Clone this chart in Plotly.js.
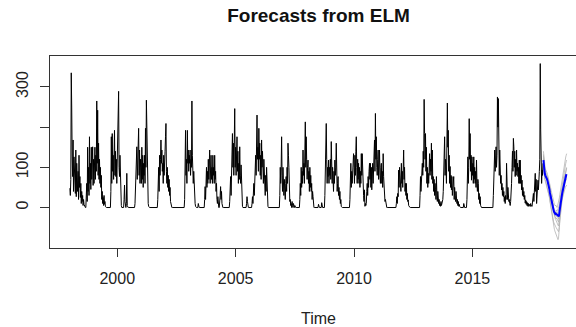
<!DOCTYPE html>
<html><head><meta charset="utf-8">
<script src="https://cdn.plot.ly/plotly-3.0.1.min.js"></script>
<style>html,body{margin:0;padding:0;overflow:hidden;background:#fff;width:576px;height:327px}#chart{width:600px;height:327px}</style>
</head><body><div id="chart"></div>
<script>
const startYear = 1998;
const freq = 52;
const y1998 = [48,30,70,335,250,126,77,168,40,126,60,100,35,143,27,110,60,40,90,20,130,50,77,25,60,10,40,15,30,5,20,8,2,0,0,0,20,60,15,150,40,100,30,176,60,110,45,150,70,100,151,55];
const y1999 = [120,60,100,150,70,130,90,265,110,242,80,160,70,120,60,100,50,80,20,40,10,25,5,30,8,15,3,0,0,0,0,0,0,0,0,0,0,0,40,176,60,184,90,130,70,150,192,80,140,77,120,60];
const y2000 = [126,90,151,289,100,77,130,60,30,5,0,0,0,0,0,20,56,15,0,0,10,85,5,0,0,0,0,0,0,0,0,0,0,0,0,0,0,0,0,10,60,30,100,151,70,120,90,197,80,143,60,120];
const y2001 = [100,60,150,70,130,50,110,80,130,60,197,100,267,176,60,35,10,3,0,0,0,0,0,0,0,0,0,0,0,0,0,0,0,0,0,0,0,20,60,100,40,130,80,120,168,110,143,90,110,60,130,80];
const y2002 = [100,140,176,209,90,60,100,50,80,40,70,30,50,15,5,0,0,0,0,0,0,0,0,0,0,0,0,0,0,0,0,0,0,0,0,0,0,0,0,0,0,0,0,0,20,100,192,80,120,60,192,110];
const y2003 = [143,90,130,110,143,80,120,100,265,130,110,60,90,40,27,10,3,0,0,0,0,0,10,0,0,0,0,0,0,0,0,0,0,0,0,0,20,52,20,70,100,50,90,60,120,70,100,143,60,90,130,70];
const y2004 = [100,60,130,80,100,60,130,70,90,40,60,20,10,27,5,0,0,10,30,52,20,40,10,0,0,0,0,0,0,0,0,0,0,0,0,0,0,0,0,15,40,77,30,100,60,184,100,160,80,130,246,100];
const y2005 = [150,80,120,176,90,140,60,110,70,151,80,60,106,30,10,3,0,0,0,0,0,0,0,0,10,27,15,0,0,0,0,0,0,0,0,0,10,27,10,40,60,30,100,60,130,80,160,230,120,150,90,197];
const y2006 = [120,160,80,130,70,168,100,140,100,60,120,70,60,30,80,40,100,30,10,3,0,0,0,0,0,0,0,0,0,0,0,0,0,0,0,0,0,0,0,0,0,0,0,0,0,30,100,60,100,176,80,40];
const y2007 = [100,60,30,70,52,20,60,77,40,100,60,160,130,100,40,15,20,5,10,0,15,5,0,10,0,0,5,0,0,0,0,0,0,0,0,0,0,20,60,30,100,50,90,60,143,80,110,60,130,213,100,176];
const y2008 = [120,70,100,118,60,90,40,100,50,80,40,60,20,40,27,5,0,0,0,0,0,0,0,0,0,0,8,0,0,0,0,0,0,12,0,0,0,0,0,0,30,77,100,209,120,60,100,77,118,60,100,80];
const y2009 = [120,70,164,90,60,100,77,40,90,60,118,80,100,160,70,40,60,77,30,50,20,40,10,20,3,0,0,0,0,0,0,0,0,0,0,0,0,0,0,0,0,0,0,20,60,110,50,90,60,110,80,134];
const y2010 = [100,60,130,80,140,176,100,60,120,70,110,60,100,50,90,60,134,80,134,60,44,30,15,44,3,10,5,10,40,60,30,77,50,90,110,70,110,50,100,44,80,110,60,100,130,168,90,234,120,176,100,80];
const y2011 = [120,143,70,100,143,80,60,100,110,60,90,50,134,77,40,27,15,20,10,3,0,0,0,0,0,0,0,0,0,0,0,0,0,0,0,0,0,0,0,0,0,10,27,10,35,27,93,50,100,60,80,40];
const y2012 = [110,60,90,50,80,143,70,100,40,60,30,60,20,35,15,19,5,3,0,0,0,0,0,0,0,0,0,0,0,0,0,0,0,0,0,0,0,0,0,0,0,30,77,40,77,60,110,80,140,100,269,184];
const y2013 = [120,184,90,150,60,100,50,85,60,100,134,80,120,90,160,70,143,60,77,40,70,30,60,44,20,77,30,15,40,27,10,20,5,10,3,15,5,10,8,20,40,70,100,176,80,120,102,60,150,260,150,192];
const y2014 = [90,130,60,102,50,80,44,77,30,60,44,77,20,50,30,15,40,27,10,20,5,15,3,8,3,0,0,0,0,0,0,0,0,10,0,0,0,0,0,0,20,70,126,60,100,221,120,184,90,130,68,126];
const y2015 = [80,110,60,126,70,100,60,90,50,118,60,40,70,60,20,35,10,27,5,0,0,0,0,0,0,0,0,0,0,0,0,0,0,0,0,0,0,0,0,0,0,0,0,0,0,0,30,77,60,143,90,120];
const y2016 = [151,100,130,275,200,271,120,80,143,100,60,80,44,60,30,50,27,40,15,27,10,30,20,110,40,20,50,35,15,20,10,5,15,30,60,100,140,90,172,151,100,140,77,120,80,143,90,110,77,100,60,118];
const y2017 = [60,118,60,80,44,68,30,50,27,40,20,30,11,19,8,15,5,12,3,10,3,8,5,3,10,3,5,3,10,20,35,15,60,35,85,40,70,10,52,30,68,44,60,90,120,358,193,68,60,93,80,110];

const fcStart = 2018;
const forecast = [118,100,88,84,80,78,76,74,70,66,62,58,52,46,38,32,26,18,12,8,2,-4,-8,-10,-12,-15,-16,-15,-17,-16,-18,-19,-20,-21,-22,-12,-2,6,12,20,27,34,40,46,52,58,66,72,77,79,81,83];
const member1 = [140,122,108,100,96,94,92,90,86,82,78,74,70,66,60,54,48,42,36,30,24,18,14,10,8,6,4,6,4,2,0,4,8,12,16,24,32,40,48,56,64,72,80,88,96,104,110,116,122,126,130,134];
const member2 = [128,110,96,92,90,88,86,84,80,76,72,66,60,54,46,40,34,26,18,12,6,0,-4,-8,-10,-12,-14,-12,-14,-12,-16,-14,-10,-8,-4,4,12,20,28,34,40,46,52,58,64,70,76,82,88,92,96,100];
const member3 = [110,92,80,74,70,66,62,58,54,50,46,40,34,28,20,12,4,-4,-12,-18,-24,-30,-34,-38,-42,-44,-46,-48,-50,-52,-54,-56,-58,-60,-56,-40,-26,-14,-4,6,14,22,30,36,42,48,54,60,64,68,70,72];
const member4 = [106,88,76,70,66,62,58,54,50,46,42,38,32,26,18,10,0,-8,-16,-24,-32,-38,-44,-50,-54,-58,-62,-66,-70,-72,-76,-78,-80,-78,-70,-50,-34,-20,-8,2,10,18,24,30,34,38,42,46,50,52,54,56];
const member5 = [122,106,92,88,84,80,78,76,72,68,64,60,56,50,42,36,28,22,14,8,2,-4,-8,-12,-14,-18,-20,-18,-22,-20,-24,-22,-26,-28,-24,-14,-4,4,10,18,26,32,38,44,50,56,62,68,74,78,80,82];
const member6 = [114,96,86,82,78,76,74,72,68,64,60,54,50,44,36,30,22,14,8,2,-4,-10,-14,-18,-20,-22,-24,-26,-28,-26,-30,-32,-34,-36,-30,-18,-8,0,8,16,22,30,36,42,48,54,60,66,70,74,76,78];
const member7 = [132,114,100,94,90,86,84,82,78,74,70,64,58,52,44,38,30,22,14,6,0,-6,-12,-16,-20,-24,-28,-30,-34,-36,-38,-40,-44,-46,-40,-26,-12,-2,8,16,24,32,40,48,56,62,70,78,84,90,94,98];
const member8 = [120,100,90,86,84,82,80,78,74,70,66,62,58,52,46,40,32,26,20,14,10,4,0,-4,-6,-8,-10,-8,-10,-6,-8,-6,-4,-2,2,10,18,26,34,42,50,58,64,72,80,86,92,100,106,110,114,118];

const xTickVals = [2000, 2005, 2010, 2015];
const yTickVals = [0, 100, 200, 300];
const yTickText = ['0', '100', '', '300'];

const history = [].concat(y1998,y1999,y2000,y2001,y2002,y2003,y2004,y2005,y2006,y2007,
  y2008,y2009,y2010,y2011,y2012,y2013,y2014,y2015,y2016,y2017);
const histX = history.map((_, i) => startYear + i / freq);
const fcX = forecast.map((_, i) => fcStart + i / freq);

const members = [member1, member2, member3, member4, member5, member6, member7, member8];
const font = 'Liberation Sans, Arial, Helvetica, sans-serif';

const traces = members.map(m => ({
  x: fcX, y: m, type: 'scatter', mode: 'lines',
  line: {color: 'rgba(175,175,175,0.75)', width: 1}, hoverinfo: 'skip'
}));
traces.push({x: histX, y: history, type: 'scatter', mode: 'lines', line: {color: '#000', width: 1}});
traces.push({x: fcX, y: forecast, type: 'scatter', mode: 'lines', line: {color: '#0000ff', width: 2}});

const layout = {
  width: 600, height: 327,
  margin: {l: 50, r: 13, t: 56, b: 79},
  paper_bgcolor: '#fff', plot_bgcolor: '#fff',
  showlegend: false,
  title: {text: 'Forecasts from ELM', font: {family: font, size: 19, color: '#111', weight: 700},
          x: 0.5, xref: 'paper', xanchor: 'center', y: 0.952, yref: 'container', yanchor: 'middle'},
  xaxis: {range: [1997.16, 2019.84], tickvals: xTickVals, ticktext: xTickVals.map(String),
    ticks: 'outside', ticklen: 8, tickwidth: 1, tickcolor: '#333',
    showline: true, linecolor: '#333', linewidth: 1, mirror: true,
    showgrid: false, zeroline: false, ticklabelstandoff: 8,
    tickfont: {family: font, size: 16, color: '#222'},
    title: {text: 'Time', font: {family: font, size: 16, color: '#222'}, standoff: 28}},
  yaxis: {range: [-100.7, 376.9], tickvals: yTickVals, ticktext: yTickText, tickangle: -90,
    ticks: 'outside', ticklen: 9, tickwidth: 1, tickcolor: '#333',
    showline: true, linecolor: '#333', linewidth: 1, mirror: true,
    showgrid: false, zeroline: false, ticklabelstandoff: 6,
    tickfont: {family: font, size: 16, color: '#222'}}
};
Plotly.newPlot('chart', traces, layout, {staticPlot: true, displayModeBar: false});
</script></body></html>
